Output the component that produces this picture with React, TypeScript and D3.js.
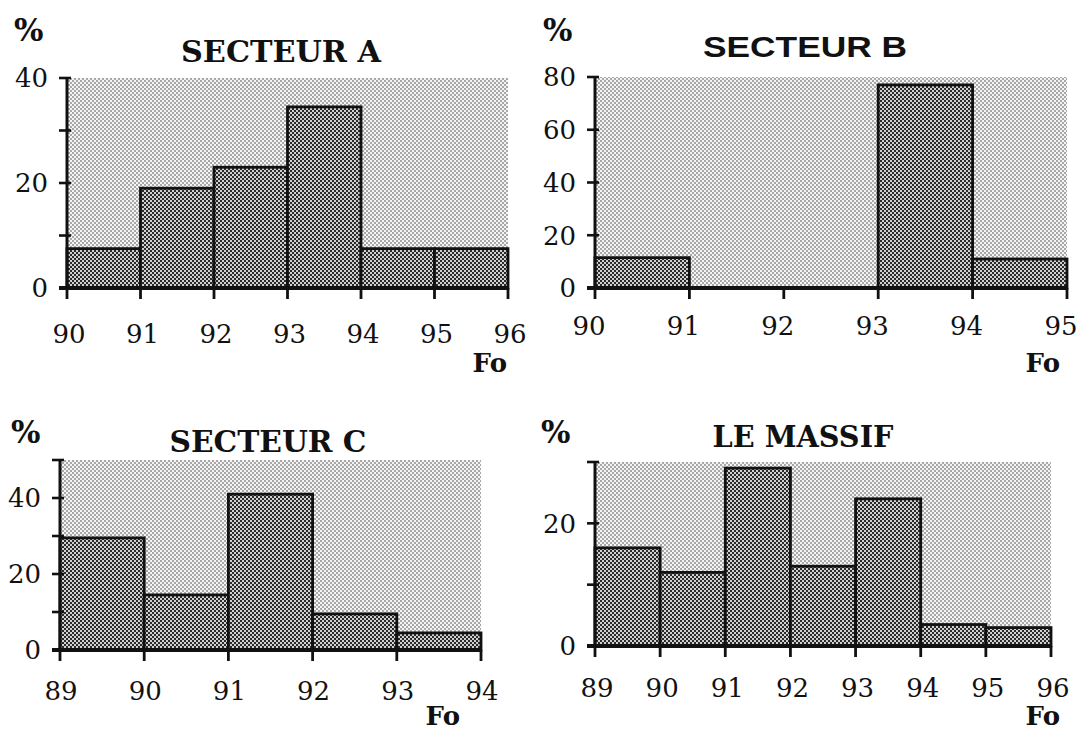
import React from 'react';
import * as d3 from 'd3';

// ---- Data ----
const binsA = [90, 91, 92, 93, 94, 95, 96];
const valuesA = [7.5, 19, 23, 34.5, 7.5, 7.5];
const yTicksA = [0, 10, 20, 30, 40];
const yLabelsA = [0, 20, 40];

const binsB = [90, 91, 92, 93, 94, 95];
const valuesB = [11.5, 0, 0, 77, 11];
const yTicksB = [0, 20, 40, 60, 80];
const yLabelsB = [0, 20, 40, 60, 80];

const binsC = [89, 90, 91, 92, 93, 94];
const valuesC = [29.5, 14.5, 41, 9.5, 4.5];
const yTicksC = [0, 10, 20, 30, 40, 50];
const yLabelsC = [0, 20, 40];

const binsD = [89, 90, 91, 92, 93, 94, 95, 96];
const valuesD = [16, 12, 29, 13, 24, 3.5, 3];
const yTicksD = [0, 10, 20, 30];
const yLabelsD = [0, 20];

const titles = ['SECTEUR A', 'SECTEUR  B', 'SECTEUR C', 'LE MASSIF'];
const yUnit = '%';
const xUnit = 'Fo';

const SERIF = "'DejaVu Serif', serif";
const SANS = "'Liberation Sans', Arial, sans-serif";

type PanelCfg = {
  id: string;
  bins: number[];
  values: number[];
  yTicks: number[];
  yLabels: number[];
  title: string;
  titleFont: string;
  left: number; right: number; top: number; base: number;
  titleX: number; titleY: number; titleW: number;
  pctX: number; pctY: number;
  foX: number; foY: number;
  labelY: number; labelDx: number;
};

const panels: PanelCfg[] = [
  { id: 'a', bins: binsA, values: valuesA, yTicks: yTicksA, yLabels: yLabelsA, title: titles[0], titleFont: SERIF,
    left: 67, right: 508, top: 78, base: 288, titleX: 281, titleY: 62, titleW: 200,
    pctX: 14, pctY: 41, foX: 507, foY: 372, labelY: 343, labelDx: 2 },
  { id: 'b', bins: binsB, values: valuesB, yTicks: yTicksB, yLabels: yLabelsB, title: titles[1], titleFont: SANS,
    left: 595, right: 1067, top: 77, base: 288, titleX: 805, titleY: 57, titleW: 204,
    pctX: 543, pctY: 41, foX: 1060, foY: 372, labelY: 335, labelDx: -6 },
  { id: 'c', bins: binsC, values: valuesC, yTicks: yTicksC, yLabels: yLabelsC, title: titles[2], titleFont: SERIF,
    left: 60, right: 481, top: 460, base: 650, titleX: 268, titleY: 452, titleW: 197,
    pctX: 11, pctY: 443, foX: 460, foY: 725, labelY: 700, labelDx: 1 },
  { id: 'd', bins: binsD, values: valuesD, yTicks: yTicksD, yLabels: yLabelsD, title: titles[3], titleFont: SERIF,
    left: 595, right: 1051, top: 462, base: 646, titleX: 803, titleY: 447, titleW: 181,
    pctX: 541, pctY: 443, foX: 1060, foY: 725, labelY: 697, labelDx: 2 },
];

function Panel({ p }: { p: PanelCfg }) {
  const x = d3.scaleLinear().domain([p.bins[0], p.bins[p.bins.length - 1]]).range([p.left, p.right]);
  const y = d3.scaleLinear().domain([0, d3.max(p.yTicks) as number]).range([p.base, p.top]);
  const bars = p.values.map((v, i) => ({ x0: p.bins[i], x1: p.bins[i + 1], v }));
  return (
    <g>
      <rect x={x.range()[0]} y={y.range()[1]} width={x.range()[1] - x.range()[0]} height={y.range()[0] - y.range()[1]}
        fill="url(#bgPat)" />
      {bars.filter(b => b.v > 0).map((b, i) => (
        <rect key={i} x={x(b.x0)} y={y(b.v)} width={x(b.x1) - x(b.x0)} height={y(0) - y(b.v)}
          fill="url(#barPat)" stroke="#111" strokeWidth={2.8} />
      ))}
      {/* y axis */}
      <line x1={x.range()[0]} x2={x.range()[0]} y1={y.range()[1]} y2={y(0) + 2} stroke="#111" strokeWidth={3} />
      {p.yTicks.map(t => (
        <line key={t} x1={x.range()[0] - 8} x2={x.range()[0] + 4} y1={y(t)} y2={y(t)} stroke="#111" strokeWidth={2.6} />
      ))}
      {p.yLabels.map(t => (
        <text key={t} x={x.range()[0] - 19} y={y(t)} dy="0.36em" textAnchor="end" fontFamily={SERIF} fontSize={26} fill="#111">{t}</text>
      ))}
      {/* baseline */}
      <line x1={x.range()[0] - 8} x2={x.range()[1] + 1} y1={y(0)} y2={y(0)} stroke="#111" strokeWidth={4} />
      {p.bins.map(b => (
        <line key={b} x1={x(b)} x2={x(b)} y1={y(0)} y2={y(0) + 11} stroke="#111" strokeWidth={2.8} />
      ))}
      {p.bins.map(b => (
        <text key={b} x={x(b) + p.labelDx} y={p.labelY} textAnchor="middle" fontFamily={SERIF} fontSize={26} fill="#111">{b}</text>
      ))}
      <text x={p.titleX} y={p.titleY} textAnchor="middle" fontFamily={p.titleFont} fontWeight="bold" fontSize={29}
        textLength={p.titleW} lengthAdjust="spacingAndGlyphs" fill="#111">{p.title}</text>
      <text x={p.pctX} y={p.pctY} fontFamily={SERIF} fontWeight="bold" fontSize={31} fill="#111">{yUnit}</text>
      <text x={p.foX} y={p.foY} textAnchor="end" fontFamily={SERIF} fontWeight="bold" fontSize={26} fill="#111">{xUnit}</text>
    </g>
  );
}

export default function App() {
  return (
    <svg width={1083} height={734} style={{ position: 'absolute', left: 0, top: 0, background: '#fff' }}>
      <defs>
        <pattern id="bgPat" width={4} height={4} patternUnits="userSpaceOnUse">
          <rect width={4} height={4} fill="#f4f4f4" />
          <rect x={0} y={0} width={2} height={2} fill="#a8a8a8" />
          <rect x={2} y={2} width={2} height={2} fill="#a8a8a8" />
        </pattern>
        <pattern id="barPat" width={4} height={4} patternUnits="userSpaceOnUse">
          <rect width={4} height={4} fill="#d0d0d0" />
          <rect x={0} y={0} width={2} height={2} fill="#2a2a2a" />
          <rect x={2} y={2} width={2} height={2} fill="#2a2a2a" />
        </pattern>
      </defs>
      <rect width={1083} height={734} fill="#fff" />
      {panels.map(p => <Panel key={p.id} p={p} />)}
    </svg>
  );
}
